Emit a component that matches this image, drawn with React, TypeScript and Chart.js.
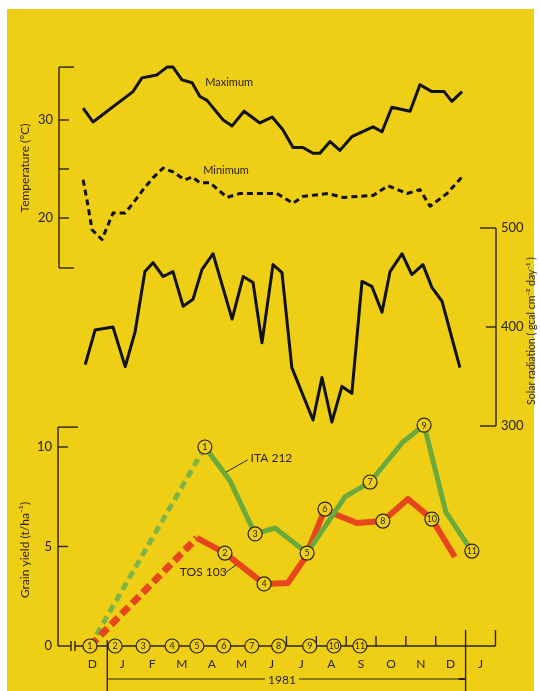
import React, { useEffect, useRef } from "react";
import { Chart, registerables } from "chart.js";
Chart.register(...registerables);

// x values are months counted from 1 January 1981
const maxTempX = [-0.81, -0.48, 0.86, 1.16, 1.66, 2.0, 2.2, 2.5, 2.84, 3.1, 3.34, 3.88, 4.18, 4.58, 5.11, 5.52, 5.88, 6.22, 6.55, 6.89, 7.12, 7.46, 7.79, 8.19, 8.9, 9.2, 9.53, 10.14, 10.47, 10.87, 11.28, 11.54, 11.88];
const maxTempY = [31.2, 29.8, 32.9, 34.3, 34.6, 35.4, 35.4, 34.1, 33.8, 32.4, 32.0, 30.0, 29.4, 30.9, 29.7, 30.3, 29.0, 27.2, 27.2, 26.6, 26.6, 27.8, 26.9, 28.3, 29.3, 28.8, 31.3, 30.9, 33.6, 32.9, 32.9, 31.9, 32.9];

const minTempX = [-0.81, -0.68, -0.51, -0.18, 0.19, 0.59, 0.86, 1.2, 1.53, 1.87, 2.2, 2.6, 2.84, 3.1, 3.44, 4.01, 4.44, 5.68, 6.22, 6.55, 7.39, 7.89, 8.9, 9.4, 10.04, 10.47, 10.81, 11.38, 11.88];
const minTempY = [23.9, 21.8, 18.8, 17.8, 20.5, 20.5, 21.5, 22.9, 24.1, 25.1, 24.7, 23.9, 24.2, 23.6, 23.6, 22.1, 22.5, 22.5, 21.5, 22.2, 22.5, 22.1, 22.3, 23.3, 22.5, 22.9, 21.2, 22.5, 24.2];

const solarX = [-0.74, -0.41, 0.19, 0.6, 0.93, 1.26, 1.53, 1.87, 2.2, 2.54, 2.87, 3.17, 3.54, 4.18, 4.55, 4.88, 5.18, 5.55, 5.85, 6.18, 6.89, 7.19, 7.52, 7.86, 8.19, 8.53, 8.86, 9.2, 9.47, 9.87, 10.2, 10.57, 10.87, 11.21, 11.54, 11.81];
const solarY = [362, 397, 400, 360, 395, 456, 465, 451, 456, 421, 428, 458, 474, 408, 451, 445, 384, 463, 455, 359, 306, 349, 304, 340, 333, 446, 441, 415, 456, 474, 453, 463, 440, 426, 389, 359];

const itaDashX = [-0.58, 3.27];
const itaDashY = [0, 10.0];
const itaX = [3.27, 4.11, 4.95, 5.62, 6.69, 7.96, 8.8, 9.9, 10.61, 11.34, 12.21];
const itaY = [10.0, 8.3, 5.63, 5.93, 4.67, 7.49, 8.24, 10.25, 11.1, 6.73, 4.77];

const tosDashX = [-0.58, 3.0];
const tosDashY = [0, 5.43];
const tosX = [3.0, 3.94, 5.25, 6.05, 6.62, 7.29, 7.69, 8.36, 9.23, 10.07, 10.87, 11.64];
const tosY = [5.43, 4.67, 3.12, 3.17, 4.42, 6.88, 6.58, 6.18, 6.28, 7.39, 6.38, 4.47];

const harvestLabels = ["1", "2", "3", "4", "5", "6", "7", "8", "9", "10", "11"];
const harvestX = [3.27, 3.94, 4.95, 5.25, 6.69, 7.29, 8.8, 9.23, 10.61, 10.87, 12.21];
const harvestY = [10.0, 4.67, 5.63, 3.12, 4.67, 6.88, 8.24, 6.28, 11.1, 6.38, 4.77];

const sowingLabels = ["1", "2", "3", "4", "5", "6", "7", "8", "9", "10", "11"];
const sowingX = [-0.58, 0.26, 1.2, 2.17, 3.0, 3.9, 4.84, 5.74, 6.78, 7.59, 8.46];

const monthLabels = ["D", "J", "F", "M", "A", "M", "J", "J", "A", "S", "O", "N", "D", "J"];
const monthStart = -1;
const boundaryTicks = [6, 7, 8, 9, 10, 11];
const tempTicks = [20, 25, 30];
const tempTickLabels = ["20", "", "30"];
const solarTicks = [300, 400, 500];
const yieldTicks = [0, 5, 10];
const yearLabel = "1981";

const W = 540;
const H = 691;
const AREA = { left: 58, right: 497, top: 50, bottom: 680 };
const BG = "#efcf16";
const INK = "#2b2212";
const GREEN = "#6aa93c";
const GREEN_LIGHT = "#7fb548";
const RED = "#e6461c";
const FONT = 'Lato, "Open Sans", sans-serif';

function span(v1: number, p1: number, v2: number, p2: number, pa: number, pb: number) {
  const k = (v2 - v1) / (p2 - p1);
  const a = v1 + (pa - p1) * k;
  const b = v1 + (pb - p1) * k;
  return { min: Math.min(a, b), max: Math.max(a, b) };
}

const pts = (xs: number[], ys: number[]) => xs.map((x, i) => ({ x, y: ys[i] }));

const decor = {
  id: "decor",
  beforeDraw(chart: any) {
    const ctx = chart.ctx;
    ctx.save();
    ctx.fillStyle = "#ffffff";
    ctx.fillRect(0, 0, W, H);
    ctx.fillStyle = BG;
    ctx.fillRect(7, 9, 527, H - 9);
    ctx.restore();
  },
  beforeDatasetsDraw(chart: any) {
    const ctx = chart.ctx;
    const sx = chart.scales.x;
    const yT = chart.scales.yT;
    const yS = chart.scales.yS;
    const yY = chart.scales.yY;
    ctx.save();
    ctx.strokeStyle = INK;
    ctx.fillStyle = INK;
    ctx.lineWidth = 1.4;
    const line = (x1: number, y1: number, x2: number, y2: number) => {
      ctx.beginPath();
      ctx.moveTo(x1, y1);
      ctx.lineTo(x2, y2);
      ctx.stroke();
    };
    // Temperature axis
    const tx = 59;
    const tTop = yT.getPixelForValue(35.4);
    const tBot = yT.getPixelForValue(14.9);
    line(tx, tTop, tx, tBot);
    line(tx, tTop, tx + 15, tTop);
    line(tx, tBot, tx + 15, tBot);
    ctx.font = `13px ${FONT}`;
    ctx.textAlign = "right";
    ctx.textBaseline = "middle";
    tempTicks.forEach((v, i) => {
      const p = yT.getPixelForValue(v);
      line(tx, p, tx + 10, p);
      if (tempTickLabels[i]) ctx.fillText(tempTickLabels[i], tx - 6, p);
    });
    // Solar axis
    const rx = 496;
    const sTop = yS.getPixelForValue(500);
    const sBot = yS.getPixelForValue(300);
    line(rx, sTop, rx, sBot);
    ctx.textAlign = "left";
    solarTicks.forEach((v) => {
      const p = yS.getPixelForValue(v);
      const len = v === 400 ? 10 : 16;
      line(rx - len, p, rx, p);
      ctx.fillText(String(v), rx + 5, p);
    });
    // Yield axis
    const gx = 58;
    const gTop = yY.getPixelForValue(11);
    const g0 = yY.getPixelForValue(0);
    line(gx, gTop, gx, g0);
    line(gx, gTop, gx + 20, gTop);
    ctx.textAlign = "right";
    yieldTicks.forEach((v) => {
      const p = yY.getPixelForValue(v);
      if (v !== 0) line(gx, p, gx + 10, p);
      ctx.fillText(String(v), gx - 6, p);
    });
    // Time axis
    const xEnd = sx.getPixelForValue(13);
    line(gx, g0, gx + 13, g0);
    line(gx + 13, g0 - 5, gx + 13, g0 + 5);
    line(gx + 17, g0 - 5, gx + 17, g0 + 5);
    line(gx + 17, g0, xEnd, g0);
    boundaryTicks.forEach((m) => {
      const p = sx.getPixelForValue(m);
      line(p, g0 - 10, p, g0);
    });
    line(xEnd, g0 - 16, xEnd, g0);
    const y0 = sx.getPixelForValue(0);
    const y1 = sx.getPixelForValue(12);
    line(y0, g0 - 6, y0, H);
    line(y1, g0 - 16, y1, H);
    ctx.font = `12px ${FONT}`;
    ctx.textAlign = "center";
    monthLabels.forEach((m, i) => {
      ctx.fillText(m, sx.getPixelForValue(monthStart + i + 0.5), g0 + 18);
    });
    // year bracket
    const yb = g0 + 33;
    const mid = sx.getPixelForValue(5.85);
    ctx.lineWidth = 1;
    line(y0, yb, mid - 17, yb);
    line(mid + 17, yb, y1, yb);
    ctx.lineWidth = 2;
    line(y1 - 7, yb, y1, yb);
    ctx.fillText(yearLabel, mid, yb + 1);
    ctx.restore();
  },
  afterDatasetsDraw(chart: any) {
    const ctx = chart.ctx;
    const sx = chart.scales.x;
    const yT = chart.scales.yT;
    const yY = chart.scales.yY;
    ctx.save();
    ctx.fillStyle = INK;
    ctx.strokeStyle = INK;
    ctx.textAlign = "center";
    ctx.textBaseline = "middle";
    ctx.font = `9px ${FONT}`;
    const drawNums = (idx: number, labels: string[]) => {
      const meta = chart.getDatasetMeta(idx);
      meta.data.forEach((el: any, i: number) => {
        ctx.fillText(labels[i], el.x, el.y + 0.5);
      });
    };
    drawNums(0, harvestLabels);
    drawNums(1, sowingLabels);
    // series labels
    ctx.font = `11px ${FONT}`;
    ctx.textAlign = "left";
    ctx.fillText("Maximum", sx.getPixelForValue(3.28), yT.getPixelForValue(33.8));
    ctx.fillText("Minimum", sx.getPixelForValue(3.21), yT.getPixelForValue(24.9));
    ctx.font = `12px ${FONT}`;
    ctx.fillText("ITA 212", sx.getPixelForValue(4.8), yY.getPixelForValue(9.45));
    ctx.fillText("TOS 103", sx.getPixelForValue(2.43), yY.getPixelForValue(3.72));
    ctx.lineWidth = 1;
    ctx.beginPath();
    ctx.moveTo(sx.getPixelForValue(4.7), yY.getPixelForValue(9.35));
    ctx.lineTo(sx.getPixelForValue(3.98), yY.getPixelForValue(8.74));
    ctx.moveTo(sx.getPixelForValue(3.94), yY.getPixelForValue(3.67));
    ctx.lineTo(sx.getPixelForValue(4.31), yY.getPixelForValue(4.07));
    ctx.stroke();
    // rotated axis titles
    const rot = (text: string, x: number, y: number, size: number) => {
      ctx.save();
      ctx.translate(x, y);
      ctx.rotate(-Math.PI / 2);
      ctx.font = `${size}px ${FONT}`;
      ctx.textAlign = "center";
      ctx.textBaseline = "middle";
      ctx.fillText(text, 0, 0);
      ctx.restore();
    };
    rot("Temperature (°C)", 25, 168, 12);
    rot("Grain yield (t/ha\u207B\u00B9)", 25, 550, 12);
    rot("Solar radiation ( gcal cm\u207B\u00B2 day\u207B\u00B9 )", 532, 331, 10.5);
    ctx.restore();
  },
};

export default function App() {
  const ref = useRef<HTMLCanvasElement | null>(null);
  useEffect(() => {
    if (!ref.current) return;
    const circle = {
      showLine: false,
      pointRadius: 7,
      pointHoverRadius: 7,
      pointBackgroundColor: BG,
      pointBorderColor: INK,
      pointBorderWidth: 1.2,
    };
    const lineBase = { pointRadius: 0, fill: false, tension: 0, borderJoinStyle: "round" as const, clip: false as any };
    const chart = new Chart(ref.current, {
      type: "line",
      data: {
        datasets: [
          { ...circle, data: pts(harvestX, harvestY), yAxisID: "yY", order: 0 } as any,
          { ...circle, data: pts(sowingX, sowingX.map(() => 0)), yAxisID: "yY", order: 0 } as any,
          { ...lineBase, data: pts(maxTempX, maxTempY), yAxisID: "yT", borderColor: "#111", borderWidth: 3, order: 5 },
          { ...lineBase, data: pts(minTempX, minTempY), yAxisID: "yT", borderColor: "#111", borderWidth: 3, borderDash: [6, 4], order: 5 },
          { ...lineBase, data: pts(solarX, solarY), yAxisID: "yS", borderColor: "#111", borderWidth: 3, order: 5 },
          { ...lineBase, data: pts(itaDashX, itaDashY), yAxisID: "yY", borderColor: GREEN_LIGHT, borderWidth: 5, borderDash: [8, 5], order: 4 },
          { ...lineBase, data: pts(itaX, itaY), yAxisID: "yY", borderColor: GREEN, borderWidth: 5, order: 2 },
          { ...lineBase, data: pts(tosDashX, tosDashY), yAxisID: "yY", borderColor: RED, borderWidth: 7, borderDash: [10, 5], order: 3 },
          { ...lineBase, data: pts(tosX, tosY), yAxisID: "yY", borderColor: RED, borderWidth: 6, order: 3 },
        ],
      },
      options: {
        responsive: false,
        animation: false,
        devicePixelRatio: 1,
        layout: { padding: { left: AREA.left, right: W - AREA.right, top: AREA.top, bottom: H - AREA.bottom } },
        plugins: { legend: { display: false }, tooltip: { enabled: false } },
        events: [],
        scales: {
          x: { type: "linear", display: false, ...span(0, 107.3, 12, 465.6, AREA.left, AREA.right) },
          yT: { type: "linear", display: false, ...span(30, 120, 20, 218, AREA.top, AREA.bottom) },
          yS: { type: "linear", display: false, ...span(500, 228, 300, 426, AREA.top, AREA.bottom) },
          yY: { type: "linear", display: false, ...span(10, 447, 0, 646, AREA.top, AREA.bottom) },
        },
      },
      plugins: [decor],
    });
    return () => chart.destroy();
  }, []);
  return (
    <div style={{ position: "absolute", left: 0, top: 0, width: W, height: H }}>
      <canvas ref={ref} width={W} height={H} style={{ display: "block", width: W, height: H }} />
    </div>
  );
}
